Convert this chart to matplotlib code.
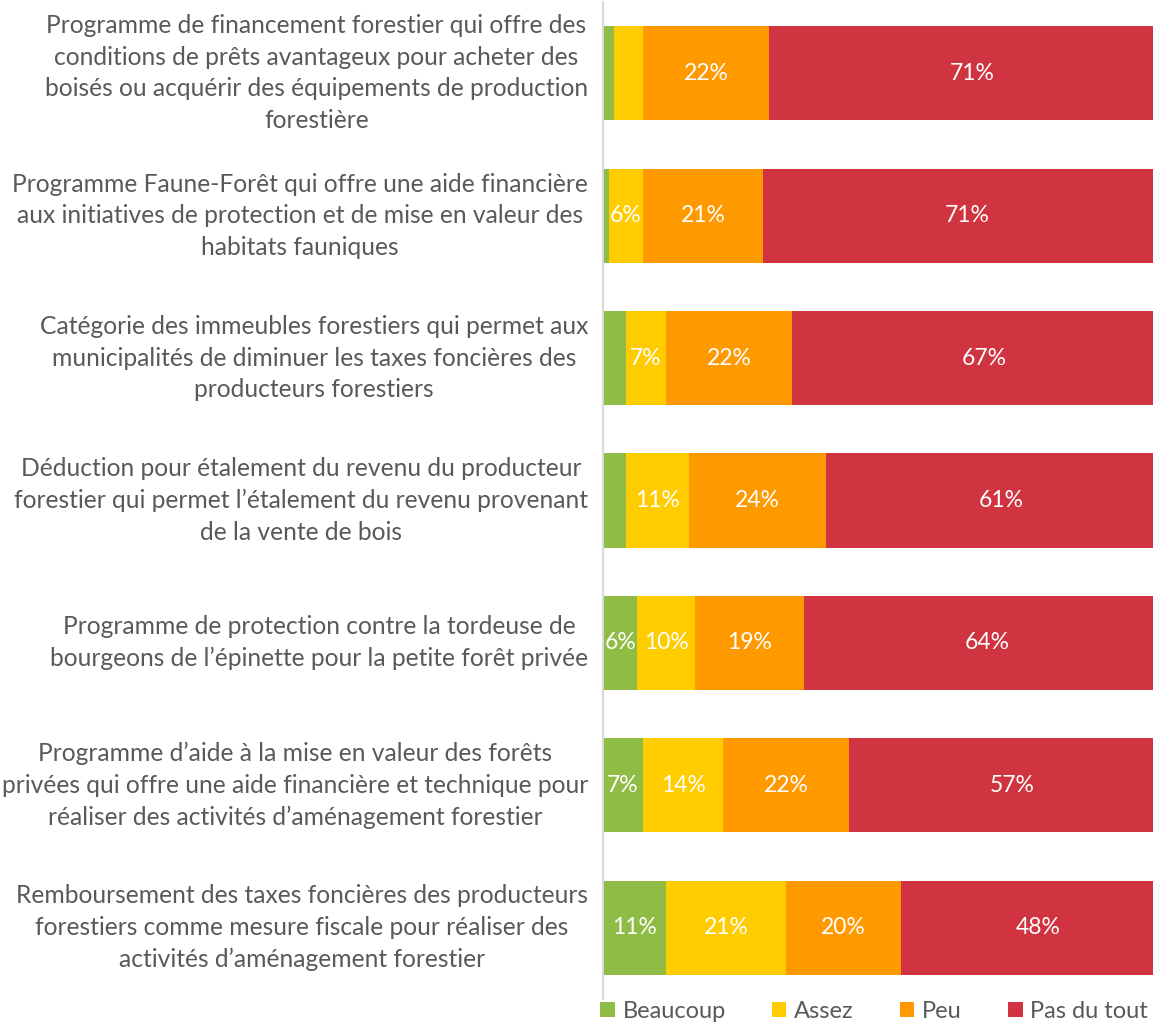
import matplotlib
matplotlib.use("Agg")
import matplotlib.pyplot as plt
from matplotlib.patches import Patch

plt.rcParams['font.family'] = ['Lato', 'DejaVu Sans']

categories = [
    "Programme de financement forestier qui offre des\nconditions de prêts avantageux pour acheter des\nboisés ou acquérir des équipements de production\nforestière",
    "Programme Faune-Forêt qui offre une aide financière\naux initiatives de protection et de mise en valeur des\nhabitats fauniques",
    "Catégorie des immeubles forestiers qui permet aux\nmunicipalités de diminuer les taxes foncières des\nproducteurs forestiers",
    "Déduction pour étalement du revenu du producteur\nforestier qui permet l’étalement du revenu provenant\nde la vente de bois",
    "Programme de protection contre la tordeuse de\nbourgeons de l’épinette pour la petite forêt privée",
    "Programme d’aide à la mise en valeur des forêts\nprivées qui offre une aide financière et technique pour\nréaliser des activités d’aménagement forestier",
    "Remboursement des taxes foncières des producteurs\nforestiers comme mesure fiscale pour réaliser des\nactivités d’aménagement forestier",
]
series_names = ["Beaucoup", "Assez", "Peu", "Pas du tout"]
beaucoup = [2, 1, 4, 4, 6, 7, 11]
assez = [5, 6, 7, 11, 10, 14, 21]
peu = [22, 21, 22, 24, 19, 22, 20]
pas_du_tout = [71, 71, 67, 61, 64, 57, 48]
colors = ["#8FBC45", "#FFCC00", "#FF9900", "#CF3440"]

fig = plt.figure(figsize=(11.53, 10.22), dpi=100)
ax = fig.add_axes([603/1153, 23/1022, 550/1153, 997/1022])

ypos = list(range(len(categories)))
left = [0]*len(categories)
for name, vals, col in zip(series_names, [beaucoup, assez, peu, pas_du_tout], colors):
    bars = ax.barh(ypos, vals, left=left, height=0.66, color=col, label=name)
    for b, v, l in zip(bars, vals, left):
        if v >= 6:
            ax.text(l + v/2, b.get_y() + b.get_height()/2, f"{v}%", ha='center', va='center',
                    color='white', fontsize=16.5)
    left = [a + b for a, b in zip(left, vals)]

ax.set_xlim(0, 100 * 550/573)
ax.set_ylim(len(categories) - 0.5, -0.5)
ax.set_yticks(ypos)
ax.set_yticklabels(categories, fontsize=17.7, color='#595959', multialignment='center', linespacing=1.45)
for t in ax.get_yticklabels():
    t.set_va('center')
ax.tick_params(axis='y', length=0, pad=10.8)
ax.set_xticks([])
for s in ['top', 'right', 'bottom']:
    ax.spines[s].set_visible(False)
ax.spines['left'].set_color('#D9D9D9')
ax.spines['left'].set_linewidth(1.5)

handles = [Patch(facecolor=c, label=n) for c, n in zip(colors, series_names)]
fig.legend(handles=handles, loc='center left', bbox_to_anchor=(600/1153, 1 - 1011/1022), ncol=4,
           frameon=False, fontsize=17, labelcolor='#595959', handlelength=0.62, handleheight=0.62,
           handletextpad=0.33, columnspacing=1.95, borderpad=0, borderaxespad=0)

fig.savefig("out.png", dpi=100)
